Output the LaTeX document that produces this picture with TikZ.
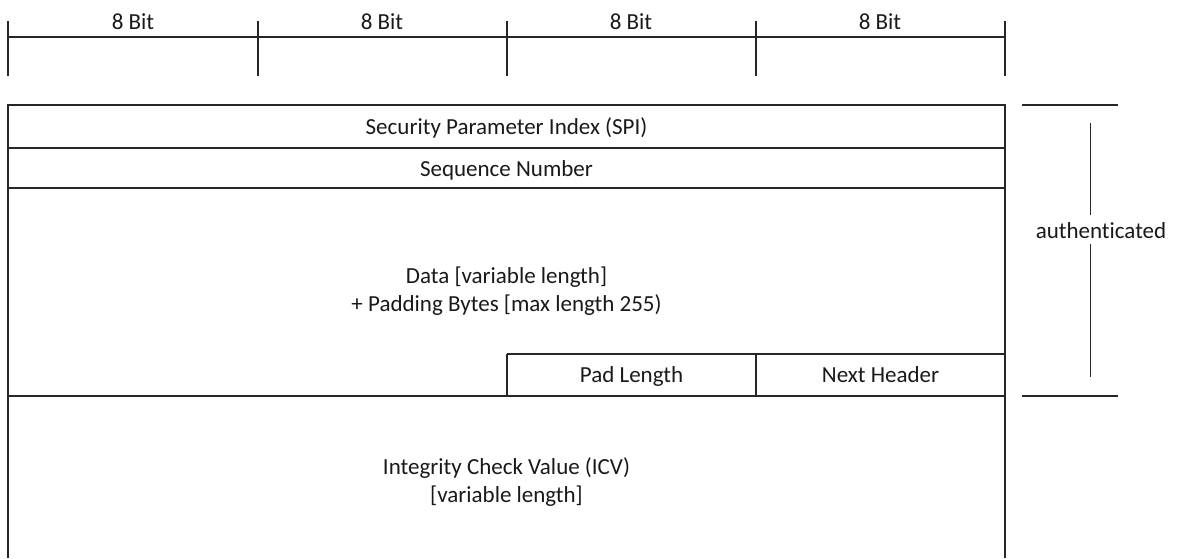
\documentclass[tikz,border=0pt]{standalone}
\usepackage{fontspec}
\setmainfont{Carlito}[Ligatures={NoCommon}]
\begin{document}
\begin{tikzpicture}[x=1pt,y=-1pt,
  rule/.style={line width=1.3pt,draw=black!85},
  lbl/.style={inner sep=0pt,anchor=base,font=\fontsize{23}{28}\selectfont,text=black!90},
  mlbl/.style={inner sep=0pt,align=center,font=\fontsize{23}{28}\selectfont,text=black!90}]
\useasboundingbox (0,0) rectangle (1177,558);

% bit ruler
\draw[rule] (8,37) -- (1005,37);
\foreach \x in {8,258,507,756,1005}
  \draw[rule] (\x,21) -- (\x,76);
\node[lbl] (b1) at (133,29) {8 Bit};
\node[lbl] (b2) at (382,29) {8 Bit};
\node[lbl] (b3) at (631,29) {8 Bit};
\node[lbl] (b4) at (880,29) {8 Bit};

% packet layout
\draw[rule] (8,558) -- (8,105) -- (1005,105) -- (1005,558);
\draw[rule] (8,148) -- (1005,148);
\draw[rule] (8,188) -- (1005,188);
\draw[rule] (507,354) -- (1005,354);
\draw[rule] (8,396) -- (1005,396);
\draw[rule] (507,354) -- (507,396);
\draw[rule] (756,354) -- (756,396);

\node[lbl] (spi) at (506.5,134) {Security Parameter Index (SPI)};
\node[lbl] (seq) at (506.5,176) {Sequence Number};
\node[mlbl] (data) at (506.5,291) {Data [variable length]\\+ Padding Bytes [max length 255)};
\node[lbl] (pad) at (631.5,382) {Pad Length};
\node[lbl] (nxt) at (880.5,382) {Next Header};
\node[mlbl] (icv) at (506.5,482) {Integrity Check Value (ICV)\\{}[variable length]};

% authenticated range
\draw[rule] (1022,105) -- (1118,105);
\draw[rule] (1022,396) -- (1118,396);
\node[lbl] (auth) at (1101,238) {authenticated};
\coordinate (atop) at (1090,123);
\coordinate (abot) at (1090,377);
\draw[rule,line width=1pt] (atop) -- (1090,215);
\draw[rule,line width=1pt] (1090,244) -- (abot);
\end{tikzpicture}
\end{document}
